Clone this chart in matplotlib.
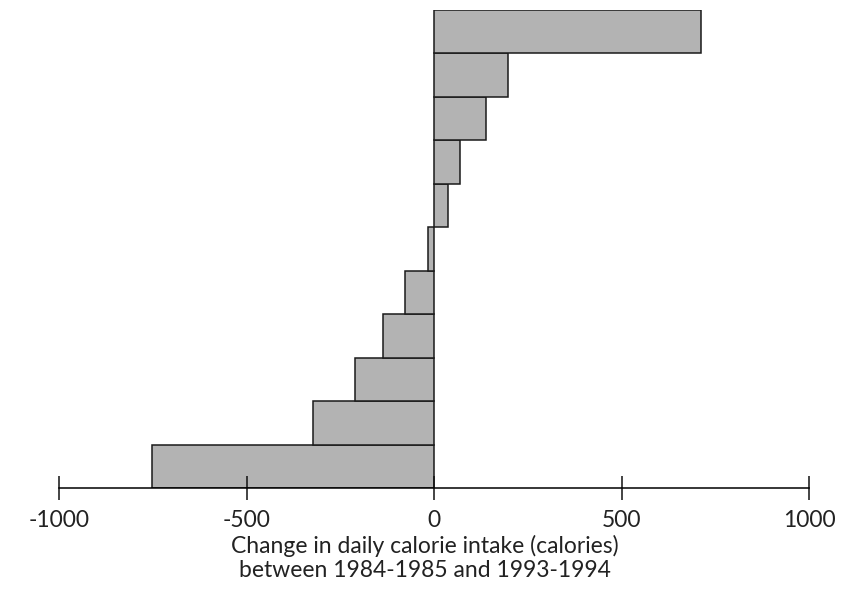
import matplotlib
matplotlib.use("Agg")
import matplotlib.pyplot as plt

# Bars from bottom to top
values = [-754, -323, -211, -136, -77, -16, 37, 68, 137, 196, 711]
positions = list(range(len(values)))
xticks = [-1000, -500, 0, 500, 1000]
xticklabels = ["-1000", "-500", "0", "500", "1000"]
xlabel = "Change in daily calorie intake (calories)\nbetween 1984-1985 and 1993-1994"

plt.rcParams['font.family'] = ['Lato', 'DejaVu Sans']

W, H = 847, 590
fig = plt.figure(figsize=(W / 100, H / 100), dpi=100)
left, right = 59.3, 809.3
top, bottom = 10.0, 488.3
ax = fig.add_axes([left / W, (H - bottom) / H, (right - left) / W, (bottom - top) / H])

ax.barh(positions, values, height=1.0, color="#b3b3b3", edgecolor="#1a1a1a", linewidth=1.1)
ax.set_xlim(-1000, 1000)
ax.set_ylim(-0.5, len(values) - 0.5)

for s in ["top", "right", "left"]:
    ax.spines[s].set_visible(False)
ax.spines["bottom"].set_linewidth(1.1)
ax.set_yticks([])
ax.set_xticks(xticks)
ax.set_xticklabels(xticklabels, fontsize=16.5)
ax.tick_params(axis="x", direction="inout", length=17, width=1.1, pad=7, colors="#111111", labelcolor="#222222")
ax.set_xlabel(xlabel, fontsize=16.5, color="#222222", linespacing=1.22)
ax.xaxis.set_label_coords(0.4873, -0.0965)
ax.xaxis.label.set_verticalalignment("top")

fig.savefig("out.png", dpi=100)
